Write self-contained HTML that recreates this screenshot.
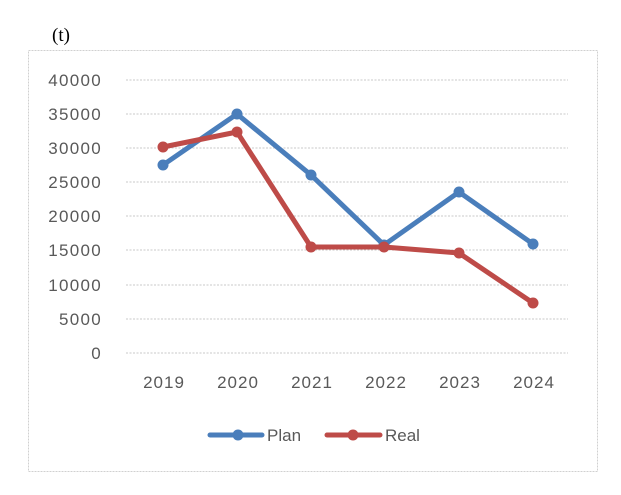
<!DOCTYPE html>
<html><head><style>body{margin:0;background:#fff}</style></head><body>
<svg width="621" height="490" xmlns="http://www.w3.org/2000/svg" font-family="Liberation Sans, sans-serif">
<text x="52" y="41" font-family="Liberation Serif, serif" font-size="19" fill="#000">(t)</text>
<rect x="28.5" y="50.5" width="569" height="421" fill="#fff" stroke="#d0d0d0" stroke-dasharray="2,1"/>
<g stroke="#c8c8c8" stroke-dasharray="2,1.5" stroke-width="1">
<line x1="126" x2="568" y1="80" y2="80"/><line x1="126" x2="568" y1="114" y2="114"/>
<line x1="126" x2="568" y1="148" y2="148"/><line x1="126" x2="568" y1="182" y2="182"/>
<line x1="126" x2="568" y1="216" y2="216"/><line x1="126" x2="568" y1="250" y2="250"/>
<line x1="126" x2="568" y1="285" y2="285"/><line x1="126" x2="568" y1="319" y2="319"/>
<line x1="126" x2="568" y1="353" y2="353"/>
</g>
<g font-size="17" fill="#595959" text-anchor="end" letter-spacing="1.3">
<text x="102" y="86">40000</text><text x="102" y="120">35000</text><text x="102" y="154">30000</text>
<text x="102" y="188">25000</text><text x="102" y="222">20000</text><text x="102" y="256">15000</text>
<text x="102" y="291">10000</text><text x="102" y="325">5000</text><text x="102" y="359">0</text>
</g>
<g font-size="17" fill="#595959" text-anchor="middle" letter-spacing="1">
<text x="164" y="388">2019</text><text x="238" y="388">2020</text><text x="312" y="388">2021</text>
<text x="386" y="388">2022</text><text x="460" y="388">2023</text><text x="534" y="388">2024</text>
</g>
<polyline points="163,165 237,114 311,175 384,245 459,192 533,244" fill="none" stroke="#4a7ebb" stroke-width="5" stroke-linejoin="round"/>
<g fill="#4a7ebb"><circle cx="163" cy="165" r="5.5"/><circle cx="237" cy="114" r="5.5"/><circle cx="311" cy="175" r="5.5"/><circle cx="384" cy="245" r="5.5"/><circle cx="459" cy="192" r="5.5"/><circle cx="533" cy="244" r="5.5"/></g>
<polyline points="163,147 237,132 311,247 384,247 459,253 533,303" fill="none" stroke="#be4b48" stroke-width="5" stroke-linejoin="round"/>
<g fill="#be4b48"><circle cx="163" cy="147" r="5.5"/><circle cx="237" cy="132" r="5.5"/><circle cx="311" cy="247" r="5.5"/><circle cx="384" cy="247" r="5.5"/><circle cx="459" cy="253" r="5.5"/><circle cx="533" cy="303" r="5.5"/></g>
<line x1="210" x2="262" y1="435" y2="435" stroke="#4a7ebb" stroke-width="5" stroke-linecap="round"/>
<circle cx="238" cy="435" r="5.5" fill="#4a7ebb"/>
<text x="267" y="441" font-size="17" fill="#595959">Plan</text>
<line x1="327" x2="380" y1="435" y2="435" stroke="#be4b48" stroke-width="5" stroke-linecap="round"/>
<circle cx="353" cy="435" r="5.5" fill="#be4b48"/>
<text x="385" y="441" font-size="17" fill="#595959">Real</text>
</svg>
</body></html>
